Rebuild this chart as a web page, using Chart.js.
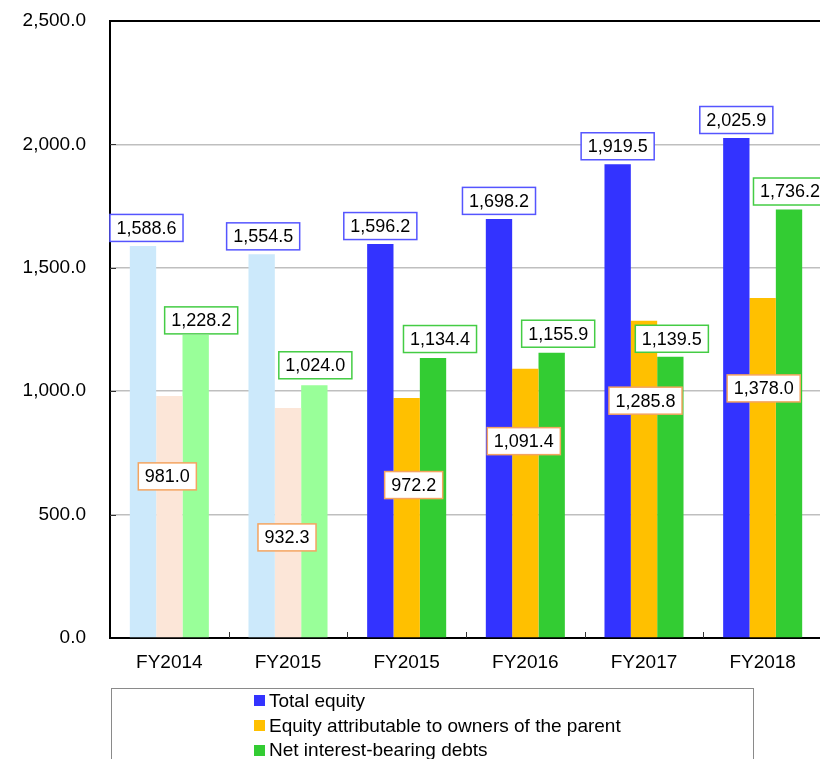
<!DOCTYPE html>
<html>
<head>
<meta charset="utf-8">
<script src="https://cdn.jsdelivr.net/npm/chart.js@4/dist/chart.umd.min.js"></script>
<style>
  html, body { margin: 0; padding: 0; background: #fff; overflow: hidden; }
  body { width: 820px; height: 759px; position: relative; font-family: "Liberation Sans", Arial, sans-serif; }
  #chart { position: absolute; left: 0; top: 0; }
  #legend { position: absolute; left: 111px; top: 688px; width: 643px; height: 100px; border: 1px solid #8a8a8a; box-sizing: border-box; }
  .item { position: absolute; height: 22px; display: flex; align-items: center; font-size: 19px; color: #000; white-space: nowrap; }
  .swatch { width: 11px; height: 11px; margin-right: 4px; flex: none; }
</style>
</head>
<body>
<canvas id="chart" width="824" height="759"></canvas>
<div id="legend"></div>
<script>
// Fiscal years on the category axis
const categories = ['FY2014', 'FY2015', 'FY2015', 'FY2016', 'FY2017', 'FY2018'];

// Series values (billions of yen)
const totalEquity  = [1588.6, 1554.5, 1596.2, 1698.2, 1919.5, 2025.9];
const parentEquity = [981.0, 932.3, 972.2, 1091.4, 1285.8, 1378.0];
const netDebts     = [1228.2, 1024.0, 1134.4, 1155.9, 1139.5, 1736.2];

// Value axis
const yTicks = [0, 500, 1000, 1500, 2000, 2500];

const seriesNames = [
  'Total equity',
  'Equity attributable to owners of the parent',
  'Net interest-bearing debts'
];

// The first two years are shown in pale tones
const paleYears = 2;

const palette = [
  { strong: '#3333FF', pale: '#CCE9FB', edge: '#5555FF' },
  { strong: '#FFC000', pale: '#FCE6D8', edge: '#F4A460' },
  { strong: '#33CC33', pale: '#99FF99', edge: '#44CC44' }
];

// Label box placement: shift of the box centre from the top middle of each bar (px)
const labelShift = [
  { dx: [3.5, 1.5, 0, 0, 0, 0],        dy: [-18, -18, -18, -18, -18, -18] },
  { dx: [-2, -1, 7, -1.5, 1.5, 1],     dy: [80.5, 129.5, 87, 72.5, 80, 90.5] },
  { dx: [5.5, 1, 7, 6.5, 1.5, 1],      dy: [-14.5, -20, -19, -19, -18, -18] }
];

const FONT = '"Liberation Sans", Arial, sans-serif';
const fmt = v => v.toLocaleString('en-US', { minimumFractionDigits: 1, maximumFractionDigits: 1 });

function makeDataset(i, values) {
  return {
    label: seriesNames[i],
    data: values,
    backgroundColor: categories.map((_, k) => k < paleYears ? palette[i].pale : palette[i].strong),
    borderWidth: 0,
    categoryPercentage: 0.666,
    barPercentage: 1.0
  };
}

// Boxed value labels
const valueLabels = {
  id: 'valueLabels',
  afterDatasetsDraw(chart) {
    const ctx = chart.ctx;
    ctx.save();
    ctx.font = '18px ' + FONT;
    ctx.textAlign = 'center';
    ctx.textBaseline = 'middle';
    chart.data.datasets.forEach((ds, i) => {
      const meta = chart.getDatasetMeta(i);
      meta.data.forEach((bar, k) => {
        const text = fmt(ds.data[k]);
        const w = ctx.measureText(text).width + 13;
        const h = 27;
        const cx = bar.x + labelShift[i].dx[k];
        const cy = bar.y + labelShift[i].dy[k];
        ctx.fillStyle = '#fff';
        ctx.fillRect(cx - w / 2, cy - h / 2, w, h);
        ctx.lineWidth = 1.5;
        ctx.strokeStyle = palette[i].edge;
        ctx.strokeRect(cx - w / 2, cy - h / 2, w, h);
        ctx.fillStyle = '#000';
        ctx.fillText(text, cx, cy + 1);
      });
    });
    ctx.restore();
  }
};

// Frame top line and short inward tick marks
const frame = {
  id: 'frame',
  afterDraw(chart) {
    const { ctx, chartArea: a, scales: { x, y } } = chart;
    ctx.save();
    ctx.strokeStyle = '#000';
    ctx.lineWidth = 2;
    ctx.beginPath();
    ctx.moveTo(a.left - 1, a.top);
    ctx.lineTo(a.right + 2, a.top);
    ctx.stroke();
    ctx.lineWidth = 1;
    ctx.strokeStyle = '#333';
    ctx.beginPath();
    const step = (x.getPixelForValue(1) - x.getPixelForValue(0));
    for (let k = 1; k < categories.length; k++) {
      const px = Math.round(x.getPixelForValue(k) - step / 2) + 0.5;
      ctx.moveTo(px, a.bottom);
      ctx.lineTo(px, a.bottom - 6);
    }
    yTicks.slice(1, -1).forEach(v => {
      const py = Math.round(y.getPixelForValue(v)) + 0.5;
      ctx.moveTo(a.left, py);
      ctx.lineTo(a.left + 6, py);
    });
    ctx.stroke();
    ctx.restore();
  }
};

new Chart(document.getElementById('chart'), {
  type: 'bar',
  data: {
    labels: categories,
    datasets: [
      makeDataset(0, totalEquity),
      makeDataset(1, parentEquity),
      makeDataset(2, netDebts)
    ]
  },
  options: {
    responsive: false,
    animation: false,
    devicePixelRatio: 1,
    layout: { padding: { top: 21, right: 2, bottom: 81, left: 0 } },
    plugins: {
      legend: { display: false },
      tooltip: { enabled: false }
    },
    scales: {
      x: {
        grid: { display: false, drawTicks: false },
        border: { display: true, color: '#000', width: 2 },
        ticks: { color: '#000', font: { family: FONT, size: 19 }, padding: 13, maxRotation: 0 },
        afterFit(scale) { scale.height = 40; }
      },
      y: {
        min: yTicks[0],
        max: yTicks[yTicks.length - 1],
        afterBuildTicks(scale) { scale.ticks = yTicks.map(v => ({ value: v })); },
        grid: { color: '#BFBFBF', lineWidth: 1.5, drawTicks: true, tickLength: 24, tickColor: 'rgba(0,0,0,0)' },
        border: { display: true, color: '#000', width: 2 },
        ticks: {
          color: '#000',
          font: { family: FONT, size: 19 },
          padding: 0,
          callback: v => fmt(v)
        },
        afterFit(scale) { scale.width = 110; }
      }
    }
  },
  plugins: [valueLabels, frame]
});

// Legend
const legend = document.getElementById('legend');
const rowCenters = [700.5, 725.5, 750];
seriesNames.forEach((name, i) => {
  const row = document.createElement('div');
  row.className = 'item';
  row.style.left = (254 - 112) + 'px';
  row.style.top = (rowCenters[i] - 11 - 689) + 'px';
  const sw = document.createElement('span');
  sw.className = 'swatch';
  sw.style.background = palette[i].strong;
  const tx = document.createElement('span');
  tx.textContent = name;
  row.appendChild(sw);
  row.appendChild(tx);
  legend.appendChild(row);
});
</script>
</body>
</html>
